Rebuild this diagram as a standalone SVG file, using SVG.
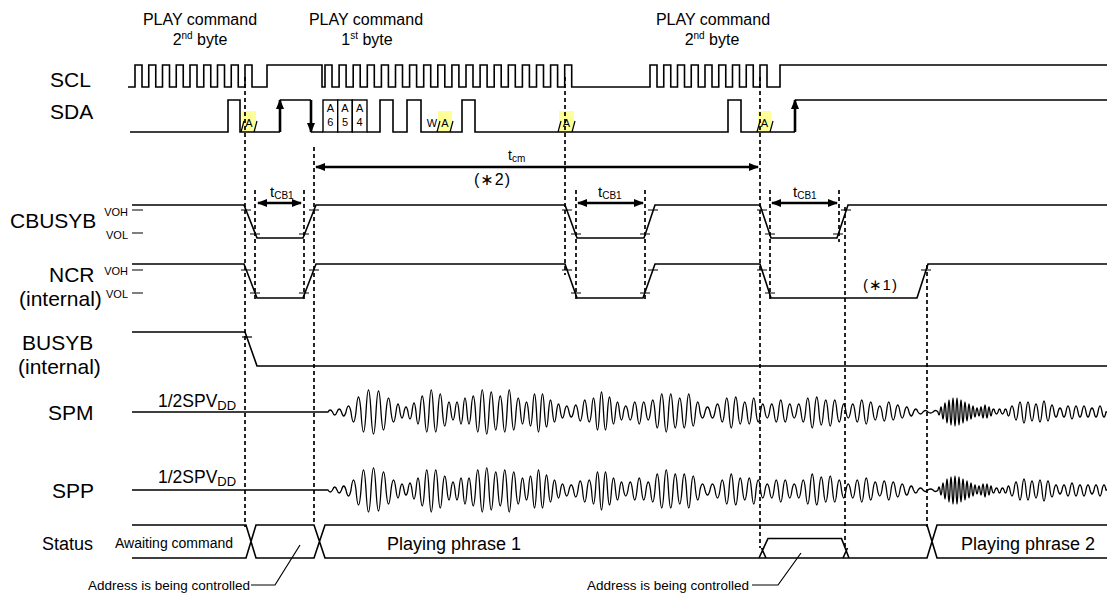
<svg xmlns="http://www.w3.org/2000/svg" xmlns:xlink="http://www.w3.org/1999/xlink" width="1107" height="596" viewBox="0 0 1107 596">
<style>
.sig{fill:none;stroke:#000;stroke-width:1.6}
.wave{fill:none;stroke:#000;stroke-width:1.3}
.dash{fill:none;stroke:#000;stroke-width:1.7;stroke-dasharray:4 3}
.tick{fill:none;stroke:#000;stroke-width:1.2}
.arr{fill:none;stroke:#000;stroke-width:2.6}
.ack{fill:#FFFF99;stroke:none}
.box{fill:#fff;stroke:#000;stroke-width:1.4}
text{font-family:"Liberation Sans",Arial,"DejaVu Sans",sans-serif;fill:#000}
.lbl{font-size:21px}
.top{font-size:16px;text-anchor:middle}
.v{font-size:11px;text-anchor:end}
.s{font-size:11px;text-anchor:middle}
.st{font-size:18px}
.sm{font-size:13.5px}
</style>
<defs>
<marker id="ah" viewBox="0 0 10 8" refX="9" refY="4" markerWidth="11" markerHeight="8" markerUnits="userSpaceOnUse" orient="auto-start-reverse"><path d="M0,0 L10,4 L0,8 z" fill="#000"/></marker>
</defs>
<rect width="1107" height="596" fill="#fff"/>

<g id="headers">
<text class="top" x="200" y="25">PLAY command</text>
<text class="top" x="200" y="45">2<tspan font-size="10" dy="-6">nd</tspan><tspan dy="6"> byte</tspan></text>
<text class="top" x="366" y="25">PLAY command</text>
<text class="top" x="367" y="45">1<tspan font-size="10" dy="-6">st</tspan><tspan dy="6"> byte</tspan></text>
<text class="top" x="713" y="25">PLAY command</text>
<text class="top" x="712" y="45">2<tspan font-size="10" dy="-6">nd</tspan><tspan dy="6"> byte</tspan></text>
</g>

<g id="labels">
<text class="lbl" x="50" y="87">SCL</text>
<text class="lbl" x="50" y="119">SDA</text>
<text class="lbl" x="10" y="228">CBUSYB</text>
<text class="lbl" x="49" y="282">NCR</text>
<text class="lbl" x="19" y="306">(internal)</text>
<text class="lbl" x="22" y="350">BUSYB</text>
<text class="lbl" x="18" y="374">(internal)</text>
<text class="lbl" x="48" y="420">SPM</text>
<text class="lbl" x="52" y="498">SPP</text>
<text class="st" x="42" y="550">Status</text>
</g>

<g id="scl">
<path class="sig" d="M128,87 H135 v-22h7v22h6.75 v-22h7v22h6.75 v-22h7v22h6.75 v-22h7v22h6.75 v-22h7v22h6.75 v-22h7v22h6.75 v-22h7v22h6.75 v-22h7v22h6.75 v-22h7v22 H267 V65 H322 V87 H325 v-22h7v22h7.1 v-22h7v22h7.1 v-22h7v22h7.1 v-22h7v22h7.1 v-22h7v22h7.1 v-22h7v22h7.1 v-22h7v22h7.1 v-22h7v22h7.1 v-22h7v22h7.1 v-22h7v22h7.1 v-22h7v22h7.1 v-22h7v22h7.1 v-22h7v22h7.1 v-22h7v22h7.1 v-22h7v22h7.1 v-22h7v22h7.1 v-22h7v22h7.1 v-22h7v22 H650 v-22h7v22h6.75 v-22h7v22h6.75 v-22h7v22h6.75 v-22h7v22h6.75 v-22h7v22h6.75 v-22h7v22h6.75 v-22h7v22h6.75 v-22h7v22h6.75 v-22h7v22 H780 V65 H1107"/>
</g>

<g id="sda">
<rect class="ack" x="242" y="111" width="14" height="21"/>
<rect class="ack" x="438" y="111" width="14" height="21"/>
<rect class="ack" x="559" y="111" width="15" height="21"/>
<rect class="ack" x="758" y="111" width="13" height="21"/>
<path class="sig" d="M130,132 H228 V100 H240 V132 H280 M280,100 H311 M311,132 H323 M367,132 H380 V100 H393 V132 H407 V100 H421 V132 H462 V100 H475 V132 H728 V100 H741 V132 H795 M795,100 H1107"/>
<rect class="box" x="323" y="100" width="14.7" height="32"/>
<rect class="box" x="337.7" y="100" width="14.6" height="32"/>
<rect class="box" x="352.3" y="100" width="14.7" height="32"/>
<text class="s" x="330.4" y="112">A</text><text class="s" x="330.4" y="126">6</text>
<text class="s" x="345" y="112">A</text><text class="s" x="345" y="126">5</text>
<text class="s" x="359.6" y="112">A</text><text class="s" x="359.6" y="126">4</text>
<path class="tick" d="M241,132 L244,121 M254,132 L257,121 M437,132 L440,121 M450,132 L453,121 M558,132 L561,121 M572,132 L575,121 M757,132 L760,121 M770,132 L773,121"/>
<text class="s" x="249" y="127">A</text>
<text class="s" x="432" y="127">W</text>
<text class="s" x="445" y="127">A</text>
<text class="s" x="566.5" y="127">A</text>
<text class="s" x="764.5" y="127">A</text>
<line class="arr" x1="280" y1="132" x2="280" y2="100" marker-end="url(#ah)"/>
<line class="arr" x1="311" y1="100" x2="311" y2="132" marker-end="url(#ah)"/>
<line class="arr" x1="795" y1="132" x2="795" y2="100" marker-end="url(#ah)"/>
</g>

<g id="cbusyb">
<path class="sig" d="M132,205 H244 L257,238 H303 L316,205 H565 L577,238 H644 L655,205 H760 L771,238 H837 L848,205 H1107"/>
<text class="v" x="128" y="216">VOH</text>
<text class="v" x="128" y="239">VOL</text>
<path class="tick" d="M132,210 H143 M132,233 H143 M241,210 H251 M250,234 H260 M299,234 H309 M309,210 H319 M562,210 H572 M571,234 H581 M640,234 H650 M648,210 H658 M757,210 H767 M765,234 H775 M833,234 H843 M841,210 H851"/>
</g>

<g id="ncr">
<path class="sig" d="M132,264 H244 L257,298 H303 L316,264 H565 L577,298 H643 L655,264 H760 L771,298 H917 L928,264 H1107"/>
<text class="v" x="128" y="275">VOH</text>
<text class="v" x="128" y="298">VOL</text>
<path class="tick" d="M132,270 H143 M132,293 H143 M241,270 H251 M250,293 H260 M299,293 H309 M309,270 H319 M562,270 H572 M571,293 H581 M640,293 H650 M648,270 H658 M757,270 H767 M765,293 H775 M921,270 H931"/>
<text x="863" y="290" font-size="15" letter-spacing="1">(∗1)</text>
</g>

<g id="busyb">
<path class="sig" d="M132,332 H245 L257,366 H1107"/>
<path class="tick" d="M242,337 H252"/>
</g>

<g id="spm">
<path id="spmw" class="wave" d="M132,412 H328 q2.25,-4 4.5,0 q2.25,6 4.5,0 q2.25,-6 4.5,0 q2.25,8 4.5,0 q2.5,-12 5,0 q2.5,20 5,0 q2.5,-30 5,0 q2.5,40 5,0 q2.5,-44 5,0 q2.5,44 5,0 q2.5,-42 5,0 q2.5,36 5,0 q2.5,-28 5,0 q2.5,20 5,0 q2,-16 4,0 q2,12 4,0 q2,-10 4,0 q2,14 4,0 q2,-18 4,0 q2,24 4,0 q2.25,-32 4.5,0 q2.25,40 4.5,0 q2.25,-44 4.5,0 q2.25,40 4.5,0 q2.25,-36 4.5,0 q2.25,28 4.5,0 q2,-20 4,0 q2,16 4,0 q2,-20 4,0 q2,24 4,0 q2,-28 4,0 q2,24 4,0 q2.25,-32 4.5,0 q2.25,40 4.5,0 q2.25,-44 4.5,0 q2.25,44 4.5,0 q2.25,-40 4.5,0 q2.25,36 4.5,0 q2.25,-32 4.5,0 q2.25,40 4.5,0 q2.25,-44 4.5,0 q2.25,36 4.5,0 q2.25,-28 4.5,0 q2,24 4,0 q2,-20 4,0 q2,28 4,0 q2,-36 4,0 q2,40 4,0 q2,-36 4,0 q2,30 4,0 q2,-24 4,0 q2,20 4,0 q2,-16 4,0 q2,12 4,0 q2.25,-12 4.5,0 q2.25,10 4.5,0 q2.25,-14 4.5,0 q2.25,18 4.5,0 q2.25,-24 4.5,0 q2.25,20 4.5,0 q2,-28 4,0 q2,36 4,0 q2,-40 4,0 q2,36 4,0 q2,-30 4,0 q2,24 4,0 q2,-20 4,0 q2,16 4,0 q2.25,-12 4.5,0 q2.25,16 4.5,0 q2.25,-20 4.5,0 q2.25,24 4.5,0 q2.25,-20 4.5,0 q2.25,16 4.5,0 q2.25,-24 4.5,0 q2.25,32 4.5,0 q2.25,-36 4.5,0 q2.25,40 4.5,0 q2.25,-36 4.5,0 q2.25,32 4.5,0 q2.25,-28 4.5,0 q2.25,32 4.5,0 q2.25,-36 4.5,0 q2.25,28 4.5,0 q2.25,-20 4.5,0 q2.5,12 5,0 q2.5,-10 5,0 q2.5,12 5,0 q2.5,-16 5,0 q2.25,20 4.5,0 q2.25,-28 4.5,0 q2.25,32 4.5,0 q2.25,-30 4.5,0 q2.25,24 4.5,0 q2.25,-20 4.5,0 q2.25,24 4.5,0 q2.25,-28 4.5,0 q2.25,20 4.5,0 q2.25,-16 4.5,0 q2.25,12 4.5,0 q2.25,-16 4.5,0 q2.25,20 4.5,0 q2.25,-24 4.5,0 q2.25,20 4.5,0 q2.25,-16 4.5,0 q2.25,12 4.5,0 q2.25,-16 4.5,0 q2.25,20 4.5,0 q2.25,-28 4.5,0 q2.25,32 4.5,0 q2.25,-30 4.5,0 q2.25,26 4.5,0 q2.25,-24 4.5,0 q2.25,28 4.5,0 q2.25,-24 4.5,0 q2.25,20 4.5,0 q2.25,-16 4.5,0 q2.25,12 4.5,0 q2.25,-16 4.5,0 q2.25,20 4.5,0 q2.25,-24 4.5,0 q2.25,24 4.5,0 q2.25,-20 4.5,0 q2.25,16 4.5,0 q2.25,-12 4.5,0 q2.25,18 4.5,0 q2.25,-20 4.5,0 q2.25,16 4.5,0 q2.25,-14 4.5,0 q2.25,12 4.5,0 q2.25,-10 4.5,0 q2.25,8 4.5,0 q2.25,-6 4.5,0 q2.5,4 5,0 q2.5,-3 5,0 q2.5,2 5,0 q2.5,-3 5,0 q1,6 2,0 q1,-10 2,0 q1,14 2,0 q1,-18 2,0 q1,22 2,0 q1,-24 2,0 q1,26 2,0 q1,-28 2,0 q1,28 2,0 q1,-28 2,0 q1,26 2,0 q1,-24 2,0 q1,22 2,0 q1,-20 2,0 q1,18 2,0 q1,-16 2,0 q1,14 2,0 q1,-12 2,0 q1,10 2,0 q1,-8 2,0 q1,8 2,0 q1,-10 2,0 q1,12 2,0 q1,-14 2,0 q1,12 2,0 q1,-10 2,0 q1,8 2,0 q1.5,-6 3,0 q1.5,4 3,0 q1.5,-6 3,0 q1.5,4 3,0 q1.5,-6 3,0 q1.5,8 3,0 q2,-12 4,0 q2,16 4,0 q2,-20 4,0 q2,22 4,0 q2,-20 4,0 q2,18 4,0 q2,-16 4,0 q2,20 4,0 q2,-22 4,0 q2,18 4,0 q2,-14 4,0 q2,10 4,0 q2,-8 4,0 q2,10 4,0 q2,-12 4,0 q2,14 4,0 q2,-12 4,0 q2,10 4,0 q2,-12 4,0 q2,10 4,0 q2,-8 4,0 q2,10 4,0 q2,-12 4,0 q2,10 4,0 L1107,412"/>
<text x="158" y="407" font-size="17.5">1/2SPV<tspan font-size="13" dy="3">DD</tspan></text>
</g>

<g id="spp">
<use xlink:href="#spmw" href="#spmw" transform="matrix(1 0 0 -1 0 902)"/>
<text x="158" y="483" font-size="17.5">1/2SPV<tspan font-size="13" dy="3">DD</tspan></text>
</g>

<g id="status">
<path class="sig" d="M132,525 H246 L256,558 H314 L325,525 H927 L937,558 H1107 M132,558 H246 L256,525 H314 L325,558 H927 L937,525 H1107"/>
<path class="sig" d="M759,558 L768,538.5 H841.5 L849,558 M761.5,548 L766,558 M843,558 L847.5,548"/>
<text x="115" y="548" font-size="14">Awaiting command</text>
<text class="st" x="387" y="550">Playing phrase 1</text>
<text class="st" x="961" y="550">Playing phrase 2</text>
<text class="sm" x="250" y="590" text-anchor="end">Address is being controlled</text>
<text class="sm" x="749" y="590" text-anchor="end">Address is being controlled</text>
<path class="tick" d="M251,585 H275 L300,545 M752,585 H778 L801,553"/>
</g>

<g id="connectors">
<path class="dash" d="M245,77 V527 M255,190 V300 M304,190 V300 M314,147 V525 M565,77 V275 M576,190 V300 M645,190 V300 M760,77 V548 M770,190 V300 M839,190 V242 M845,207 V548 M927,265 V527"/>
<line class="arr" x1="316" y1="167" x2="758" y2="167" marker-start="url(#ah)" marker-end="url(#ah)"/>
<text x="508" y="160" font-size="14">t<tspan font-size="10" dy="2">cm</tspan></text>
<text x="474" y="185" font-size="16" letter-spacing="1">(∗2)</text>
<line class="arr" x1="258" y1="203" x2="301" y2="203" marker-start="url(#ah)" marker-end="url(#ah)"/>
<line class="arr" x1="578" y1="203" x2="643" y2="203" marker-start="url(#ah)" marker-end="url(#ah)"/>
<line class="arr" x1="772" y1="203" x2="837" y2="203" marker-start="url(#ah)" marker-end="url(#ah)"/>
<text x="270" y="197" font-size="15">t<tspan font-size="10" dy="2">CB1</tspan></text>
<text x="598" y="197" font-size="15">t<tspan font-size="10" dy="2">CB1</tspan></text>
<text x="793" y="197" font-size="15">t<tspan font-size="10" dy="2">CB1</tspan></text>
</g>
</svg>
